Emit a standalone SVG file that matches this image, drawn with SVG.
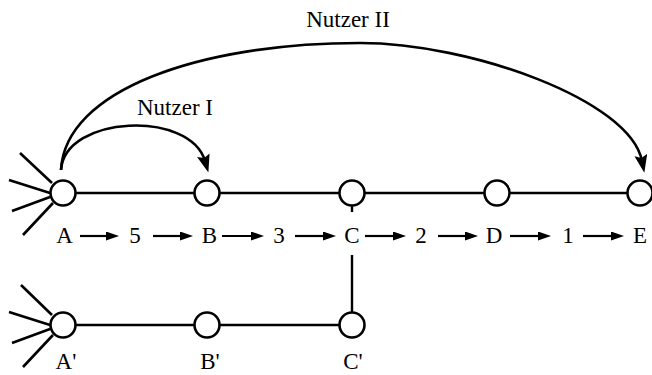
<svg xmlns="http://www.w3.org/2000/svg" width="652" height="375" viewBox="0 0 652 375">
<defs>
<marker id="big" markerUnits="userSpaceOnUse" markerWidth="18" markerHeight="13" refX="6" refY="6.5" orient="auto" viewBox="0 0 18 13"><path d="M0,0 L18,6.5 L0,13 L3,6.5 z" fill="#000"/></marker>
<marker id="small" markerUnits="userSpaceOnUse" markerWidth="13" markerHeight="9" refX="4" refY="4.5" orient="auto" viewBox="0 0 13 9"><path d="M0,0 L13,4.5 L0,9 z" fill="#000"/></marker>
<style>
.node circle{fill:#fff;stroke:#000;stroke-width:2.6}
.ln{stroke:#000;stroke-width:2.4;fill:none}
.sp{stroke:#000;stroke-width:2.6;fill:none}
.arc{stroke:#000;stroke-width:2.6;fill:none;marker-end:url(#big)}
.ar{stroke:#000;stroke-width:2.2;marker-end:url(#small)}
text{font-family:"Liberation Serif","Times New Roman",serif;font-size:23px;fill:#000;text-anchor:middle}
</style>
</defs>
<g id="connectors">
<line class="ln" x1="63" y1="193" x2="640" y2="193"/>
<line class="ln" x1="63" y1="325" x2="352" y2="325"/>
<line class="ln" x1="352" y1="193" x2="352" y2="212"/>
<line class="ln" x1="352" y1="255" x2="352" y2="325"/>
<path class="sp" d="M20,153 L52,183 M9,180 L50,193 M12,211 L50,197 M23,235 L53,203"/>
<path class="sp" d="M21,285 L52,315 M9,312 L50,325 M12,343 L50,329 M23,367 L53,335"/>
<path id="nutzer1" class="arc" d="M61,170 C65,115 190,110 205,161"/>
<path id="nutzer2" class="arc" d="M61,170 C65,90 200,43 360,43 C470,43 630,100 642,161"/>
<line class="ar" x1="80" y1="236" x2="110" y2="236"/>
<line class="ar" x1="153" y1="236" x2="184" y2="236"/>
<line class="ar" x1="222" y1="236" x2="255" y2="236"/>
<line class="ar" x1="295" y1="236" x2="327" y2="236"/>
<line class="ar" x1="365" y1="236" x2="397" y2="236"/>
<line class="ar" x1="438" y1="236" x2="469" y2="236"/>
<line class="ar" x1="510" y1="236" x2="542" y2="236"/>
<line class="ar" x1="583" y1="236" x2="615" y2="236"/>
</g>
<g id="node-A" class="node"><circle cx="63" cy="193" r="12.5"/></g>
<g id="node-B" class="node"><circle cx="207" cy="193" r="12.5"/></g>
<g id="node-C" class="node"><circle cx="352" cy="193" r="12.5"/></g>
<g id="node-D" class="node"><circle cx="497" cy="193" r="12.5"/></g>
<g id="node-E" class="node"><circle cx="640" cy="193" r="12.5"/></g>
<g id="node-A2" class="node"><circle cx="63" cy="325" r="12.5"/></g>
<g id="node-B2" class="node"><circle cx="207" cy="325" r="12.5"/></g>
<g id="node-C2" class="node"><circle cx="352" cy="325" r="12.5"/></g>
<g id="labels">
<text x="175" y="115">Nutzer I</text>
<text x="348" y="27">Nutzer II</text>
<text x="64.5" y="243">A</text>
<text x="135" y="243">5</text>
<text x="209.5" y="243">B</text>
<text x="279" y="243">3</text>
<text x="352" y="243">C</text>
<text x="421" y="243">2</text>
<text x="494" y="243">D</text>
<text x="568" y="243">1</text>
<text x="640" y="243">E</text>
<text x="66" y="369">A'</text>
<text x="210" y="369">B'</text>
<text x="353" y="369">C'</text>
</g>
</svg>
